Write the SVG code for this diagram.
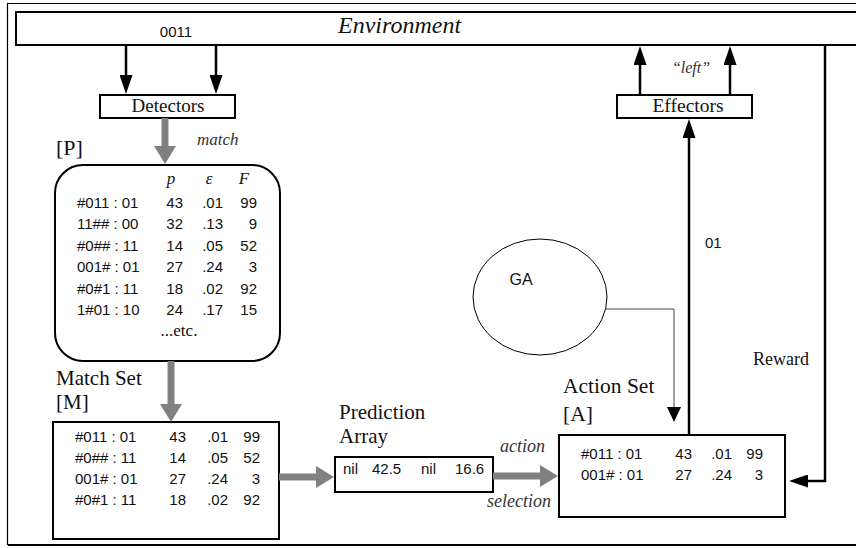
<svg xmlns="http://www.w3.org/2000/svg" width="856" height="548" viewBox="0 0 856 548">
<defs>
<style>
.box{fill:#fff;stroke:#000;stroke-width:2}
.sans{font-family:"Liberation Sans",Arial,sans-serif;fill:#111}
.serif{font-family:"Liberation Serif","Times New Roman",serif;fill:#111}
.it{font-style:italic}
.tbl{font-size:15px}
.num{text-anchor:end}
.blk{stroke:#000;stroke-width:2.5;fill:none}
.thin{stroke:#444;stroke-width:1;fill:none}
.gry{stroke:#808080;stroke-width:7;fill:none}
</style>
<marker id="hb" markerUnits="userSpaceOnUse" markerWidth="20" markerHeight="13" refX="1" refY="6.5" orient="auto"><path d="M0,0 L19,6.5 L0,13 z" fill="#000"/></marker>
<marker id="ht" markerUnits="userSpaceOnUse" markerWidth="16" markerHeight="14" refX="1" refY="7" orient="auto"><path d="M0,0 L15,7 L0,14 z" fill="#000"/></marker>
<marker id="hg" markerUnits="userSpaceOnUse" markerWidth="19" markerHeight="22" refX="1" refY="11" orient="auto"><path d="M0,0 L18,11 L0,22 z" fill="#808080"/></marker>
</defs>
<rect width="856" height="548" fill="#fff"/>
<!-- outer frame -->
<path d="M858,3.5 H7.5 V545" fill="none" stroke="#000" stroke-width="1.2"/>
<line x1="8" y1="545" x2="858" y2="545" stroke="#000" stroke-width="2.2"/>

<g id="environment">
<rect x="16" y="12" width="850" height="33" class="box"/>
<text x="176" y="37" class="sans" font-size="15" text-anchor="middle">0011</text>
<text x="338" y="33" class="serif it" font-size="24">Environment</text>
</g>

<g id="detectors">
<rect x="100" y="95" width="135" height="23" class="box" stroke-width="1.6"/>
<text x="168" y="112" class="serif" font-size="19" text-anchor="middle">Detectors</text>
</g>

<g id="effectors">
<rect x="617" y="95" width="135" height="23" class="box" stroke-width="1.6"/>
<text x="688" y="112" class="serif" font-size="19.5" text-anchor="middle">Effectors</text>
</g>

<g id="population">
<rect x="55" y="165" width="225" height="196" rx="28" ry="28" class="box"/>
<text x="56" y="155" class="serif" font-size="22">[P]</text>
<g class="serif it" font-size="17" text-anchor="middle">
<text x="171" y="184">p</text><text x="209" y="184">ε</text><text x="244" y="184">F</text>
</g>
<g class="sans tbl">
<text x="77" y="208">#011 : 01</text><text x="183" y="208" class="num">43</text><text x="223" y="208" class="num">.01</text><text x="257" y="208" class="num">99</text>
<text x="77" y="229">11## : 00</text><text x="183" y="229" class="num">32</text><text x="223" y="229" class="num">.13</text><text x="257" y="229" class="num">9</text>
<text x="77" y="251">#0## : 11</text><text x="183" y="251" class="num">14</text><text x="223" y="251" class="num">.05</text><text x="257" y="251" class="num">52</text>
<text x="77" y="272">001# : 01</text><text x="183" y="272" class="num">27</text><text x="223" y="272" class="num">.24</text><text x="257" y="272" class="num">3</text>
<text x="77" y="294">#0#1 : 11</text><text x="183" y="294" class="num">18</text><text x="223" y="294" class="num">.02</text><text x="257" y="294" class="num">92</text>
<text x="77" y="315">1#01 : 10</text><text x="183" y="315" class="num">24</text><text x="223" y="315" class="num">.17</text><text x="257" y="315" class="num">15</text>
</g>
<text x="179" y="336" class="serif" font-size="17" text-anchor="middle">...etc.</text>
</g>

<g id="matchset">
<rect x="53" y="422" width="226" height="117" class="box"/>
<text x="56" y="385" class="serif" font-size="21">Match Set</text>
<text x="56" y="409" class="serif" font-size="21">[M]</text>
<g class="sans tbl">
<text x="75" y="442">#011 : 01</text><text x="186" y="442" class="num">43</text><text x="228" y="442" class="num">.01</text><text x="260" y="442" class="num">99</text>
<text x="75" y="463">#0## : 11</text><text x="186" y="463" class="num">14</text><text x="228" y="463" class="num">.05</text><text x="260" y="463" class="num">52</text>
<text x="75" y="484">001# : 01</text><text x="186" y="484" class="num">27</text><text x="228" y="484" class="num">.24</text><text x="260" y="484" class="num">3</text>
<text x="75" y="505">#0#1 : 11</text><text x="186" y="505" class="num">18</text><text x="228" y="505" class="num">.02</text><text x="260" y="505" class="num">92</text>
</g>
</g>

<g id="prediction">
<rect x="335" y="457" width="158" height="35" class="box"/>
<text x="339" y="419" class="serif" font-size="21">Prediction</text>
<text x="339" y="443" class="serif" font-size="21">Array</text>
<g class="sans tbl">
<text x="343" y="474">nil</text><text x="372" y="474">42.5</text><text x="421" y="474">nil</text><text x="455" y="474">16.6</text>
</g>
</g>

<g id="actionset">
<rect x="559" y="435" width="226" height="82" class="box"/>
<text x="563" y="393" class="serif" font-size="21.5">Action Set</text>
<text x="563" y="421" class="serif" font-size="21.5">[A]</text>
<g class="sans tbl">
<text x="581" y="459">#011 : 01</text><text x="692" y="459" class="num">43</text><text x="732" y="459" class="num">.01</text><text x="763" y="459" class="num">99</text>
<text x="581" y="480">001# : 01</text><text x="692" y="480" class="num">27</text><text x="732" y="480" class="num">.24</text><text x="763" y="480" class="num">3</text>
</g>
</g>

<g id="ga">
<ellipse cx="540" cy="297" rx="67" ry="58" fill="#fff" stroke="#000" stroke-width="1"/>
<text x="521" y="285" class="sans" font-size="16" text-anchor="middle">GA</text>
</g>

<g id="connectors">
<line x1="126" y1="45" x2="126" y2="76" class="blk" marker-end="url(#hb)"/>
<line x1="216" y1="45" x2="216" y2="76" class="blk" marker-end="url(#hb)"/>
<line x1="640" y1="95" x2="640" y2="64" class="blk" marker-end="url(#hb)"/>
<line x1="730" y1="95" x2="730" y2="64" class="blk" marker-end="url(#hb)"/>
<line x1="689" y1="435" x2="689" y2="137" class="blk" marker-end="url(#hb)"/>
<polyline points="825,45 825,481 807,481" class="blk" marker-end="url(#hb)"/>
<polyline points="606,309 674,309 674,408" class="thin" marker-end="url(#ht)"/>
<line x1="165" y1="118" x2="165" y2="147" class="gry" marker-end="url(#hg)"/>
<line x1="171" y1="361" x2="171" y2="405" class="gry" marker-end="url(#hg)"/>
<line x1="279" y1="477" x2="317" y2="477" class="gry" marker-end="url(#hg)"/>
<line x1="493" y1="476" x2="541" y2="476" class="gry" marker-end="url(#hg)"/>
<text x="691" y="73" class="serif it" font-size="16" text-anchor="middle" style="fill:#333">“left”</text>
<text x="197" y="145" class="serif it" font-size="17" style="fill:#333">match</text>
<text x="705" y="248" class="sans" font-size="15">01</text>
<text x="753" y="365" class="serif" font-size="18">Reward</text>
<text x="500" y="452" class="serif it" font-size="18" style="fill:#333">action</text>
<text x="487" y="507" class="serif it" font-size="18" style="fill:#333">selection</text>
</g>
</svg>
